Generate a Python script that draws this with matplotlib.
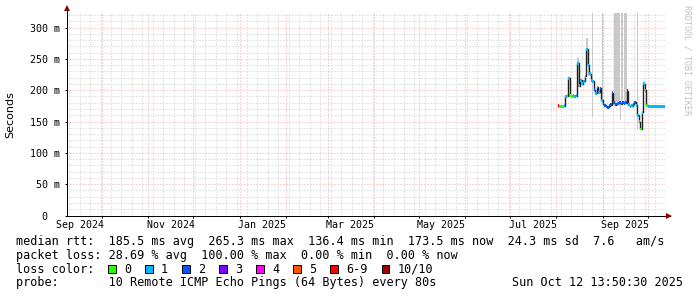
import matplotlib
matplotlib.use('Agg')
import matplotlib.pyplot as plt
import matplotlib.dates as mdates
from matplotlib.patches import Rectangle
import pandas as pd

# ---------------- data ----------------
t_start = '2024-09-07 13:50:30'
t_end = '2025-10-12 13:50:30'

first_day = '2025-08-02'
median_ms = [175, 174, 174, 174, 175, 190, 191, 219, 191, 190,
             191, 190, 191, 243, 207, 216, 210, 214, 222, 265,
             240, 226, 216, 214, 201, 195, 205, 197, 203, 184,
             178, 176, 174, 173, 175, 177, 196, 180, 177, 178,
             179, 180, 178, 181, 179, 180, 199, 177, 174, 175,
             178, 181, 176, 160, 150, 138, 165, 210, 200, 176,
             174, 174, 174, 174, 174, 174, 174, 174, 174, 174,
             174, 174]
loss_bucket = [6, 0, 0, 0, 1, 1, 0, 1, 0, 0,
               1, 1, 1, 1, 1, 1, 1, 1, 1, 1,
               1, 1, 1, 1, 2, 1, 1, 1, 2, 1,
               2, 2, 2, 2, 2, 2, 2, 2, 2, 2,
               2, 2, 2, 2, 2, 2, 3, 1, 1, 1,
               2, 2, 1, 1, 1, 0, 1, 1, 1, 0,
               1, 1, 1, 1, 1, 1, 1, 1, 1, 1,
               1, 1]

loss_labels = ['0', '1', '2', '3', '4', '5', '6-9', '10/10']
loss_colors = ['#26ff00', '#00b8ff', '#0059ff', '#7e00ff',
               '#ff00ff', '#ff5500', '#ff0000', '#a10000']

smoke_start = ['2025-08-15 00:00', '2025-08-21 00:00', '2025-08-22 00:00',
               '2025-08-24 16:00', '2025-08-31 12:00', '2025-09-08 16:00',
               '2025-09-12 05:00', '2025-09-13 02:00', '2025-09-15 00:00',
               '2025-09-22 06:00', '2025-09-24 04:00']
smoke_end = ['2025-08-16 00:00', '2025-08-22 00:00', '2025-08-23 00:00',
             '2025-08-25 04:00', '2025-09-01 00:00', '2025-09-12 05:00',
             '2025-09-13 00:00', '2025-09-14 12:00', '2025-09-16 20:00',
             '2025-09-22 18:00', '2025-09-24 16:00']
smoke_lo = [205, 240, 222, 158, 176, 178, 152, 178, 178, 176, 136]
smoke_hi = [252, 284, 262, 400, 400, 400, 181, 400, 400, 400, 400]

y_ticks = [0, 50, 100, 150, 200, 250, 300]
y_tick_labels = ['0  ', '50 m', '100 m', '150 m', '200 m', '250 m', '300 m']
x_label_months = ['2024-09-01', '2024-11-01', '2025-01-01', '2025-03-01',
                  '2025-05-01', '2025-07-01', '2025-09-01']
x_labels = ['Sep 2024', 'Nov 2024', 'Jan 2025', 'Mar 2025',
            'May 2025', 'Jul 2025', 'Sep 2025']

legend_lines = [
    'median rtt:  185.5 ms avg  265.3 ms max  136.4 ms min  173.5 ms now  24.3 ms sd  7.6   am/s',
    'packet loss: 28.69 % avg  100.00 % max  0.00 % min  0.00 % now',
    'loss color:',
    'probe:       10 Remote ICMP Echo Pings (64 Bytes) every 80s',
]
date_stamp = 'Sun Oct 12 13:50:30 2025'

# ---------------- figure ----------------
W, H = 697, 297
DPI = 100
MONO = 'DejaVu Sans Mono'
fig = plt.figure(figsize=(W / DPI, H / DPI), dpi=DPI, facecolor='white')

left_px, right_px, bottom_px, top_px = 67, 665, 215.5, 13
ax = fig.add_axes([left_px / W, (H - bottom_px) / H,
                   (right_px - left_px) / W, (bottom_px - top_px) / H])
ax.set_facecolor('white')

ts = pd.Timestamp(t_start)
te = pd.Timestamp(t_end)
ax.set_xlim(mdates.date2num(ts), mdates.date2num(te))
ax.set_ylim(0, 323.2)

px = 0.72  # one pixel in points

# grid
minor_c = '#cccccc'
major_c = '#f0a8a8'
ls = (0, (1, 2))
for v in range(10, 330, 10):
    if v % 50 != 0:
        ax.axhline(v, color=minor_c, lw=px, ls=ls, zorder=0.5)
for v in y_ticks[1:]:
    ax.axhline(v, color=major_c, lw=px, ls=ls, zorder=0.6)
mondays = pd.date_range('2024-09-09', '2025-10-12', freq='7D')
for d in mondays:
    ax.axvline(mdates.date2num(d), color=minor_c, lw=px, ls=ls, zorder=0.5)
month_starts = pd.date_range('2024-10-01', '2025-10-01', freq='MS')
for d in month_starts:
    ax.axvline(mdates.date2num(d), color=major_c, lw=px, ls=ls, zorder=0.6)

# smoke
s0 = [mdates.date2num(pd.Timestamp(s)) for s in smoke_start]
s1 = [mdates.date2num(pd.Timestamp(s)) for s in smoke_end]
ax.bar(s0, [b - a for a, b in zip(smoke_lo, smoke_hi)],
       width=[b - a for a, b in zip(s0, s1)], bottom=smoke_lo,
       align='edge', color='#c8c8c8', linewidth=0, zorder=1)

# median line + loss colour bands
days = pd.date_range(first_day, periods=len(median_ms), freq='D')
dnum = [mdates.date2num(d) for d in days]
xs = dnum + [dnum[-1] + 1]
ys = median_ms + [median_ms[-1]]
ax.step(xs, ys, where='post', color='#202020', lw=1.0, zorder=2)
half = 2.3
ax.bar(dnum, [2 * half] * len(median_ms), width=1.0,
       bottom=[m - half for m in median_ms], align='edge',
       color=[loss_colors[b] for b in loss_bucket], linewidth=0, zorder=3)

# ticks
for s in ax.spines.values():
    s.set_visible(False)
ax.set_yticks(y_ticks)
ax.set_yticklabels(y_tick_labels, family=MONO, fontsize=7.2)
ax.tick_params(axis='y', length=2 * px, width=px, pad=3.6, color='black')
ax.set_xticks([mdates.date2num(d) for d in month_starts])
ax.set_xticklabels([])
ax.tick_params(axis='x', which='major', length=2 * px, width=px, color='black')
lab_pos = [mdates.date2num(pd.Timestamp(m) + pd.Timedelta(days=15)) for m in x_label_months]
ax.set_xticks(lab_pos, minor=True)
ax.set_xticklabels(x_labels, minor=True, family=MONO, fontsize=7.2)
ax.tick_params(axis='x', which='minor', length=0, pad=3.6)

# axis lines and arrows
axw = right_px - left_px
axh = bottom_px - top_px
ax.plot([0, (670 - left_px) / axw], [0, 0], transform=ax.transAxes,
        color='black', lw=px, clip_on=False, zorder=5)
ax.plot([0, 0], [0, (bottom_px - 8) / axh], transform=ax.transAxes,
        color='black', lw=px, clip_on=False, zorder=5)
ax.plot([(669 - left_px) / axw], [0], marker='>', ms=4.5, color='#8b0000',
        transform=ax.transAxes, clip_on=False, zorder=6, mew=0)
ax.plot([0], [(bottom_px - 8) / axh], marker='^', ms=4.5, color='#8b0000',
        transform=ax.transAxes, clip_on=False, zorder=6, mew=0)

# y label
fig.text(10 / W, 1 - 115 / H, 'Seconds', rotation=90, ha='center', va='center',
         family='DejaVu Sans', fontsize=8)

# watermark
fig.text(687 / W, 1 - 5 / H, 'RRDTOOL / TOBI OETIKER', rotation=270,
         ha='center', va='top', family=MONO, fontsize=6, color='#c0c0c0')

# legend text
line_y = [241.7, 255.3, 269.3, 282.7]
for txt, y in zip(legend_lines, line_y):
    fig.text(16 / W, 1 - y / H, txt, ha='left', va='center', family=MONO, fontsize=8.5)
fig.text(683 / W, 1 - line_y[3] / H, date_stamp, ha='right', va='center',
         family=MONO, fontsize=8.5)

# loss colour swatches
bx = 108.3
for lab, col in zip(loss_labels, loss_colors):
    fig.patches.append(Rectangle((bx / W, 1 - (line_y[2] + 4) / H), 7.5 / W, 8 / H,
                                 transform=fig.transFigure, facecolor=col,
                                 edgecolor='black', lw=0.7))
    fig.text((bx + 15.7) / W, 1 - line_y[2] / H, lab, ha='left', va='center',
             family=MONO, fontsize=8.5)
    bx += 37.0 + (len(lab) - 1) * 7.1

fig.savefig('out.png', dpi=DPI, facecolor='white')
